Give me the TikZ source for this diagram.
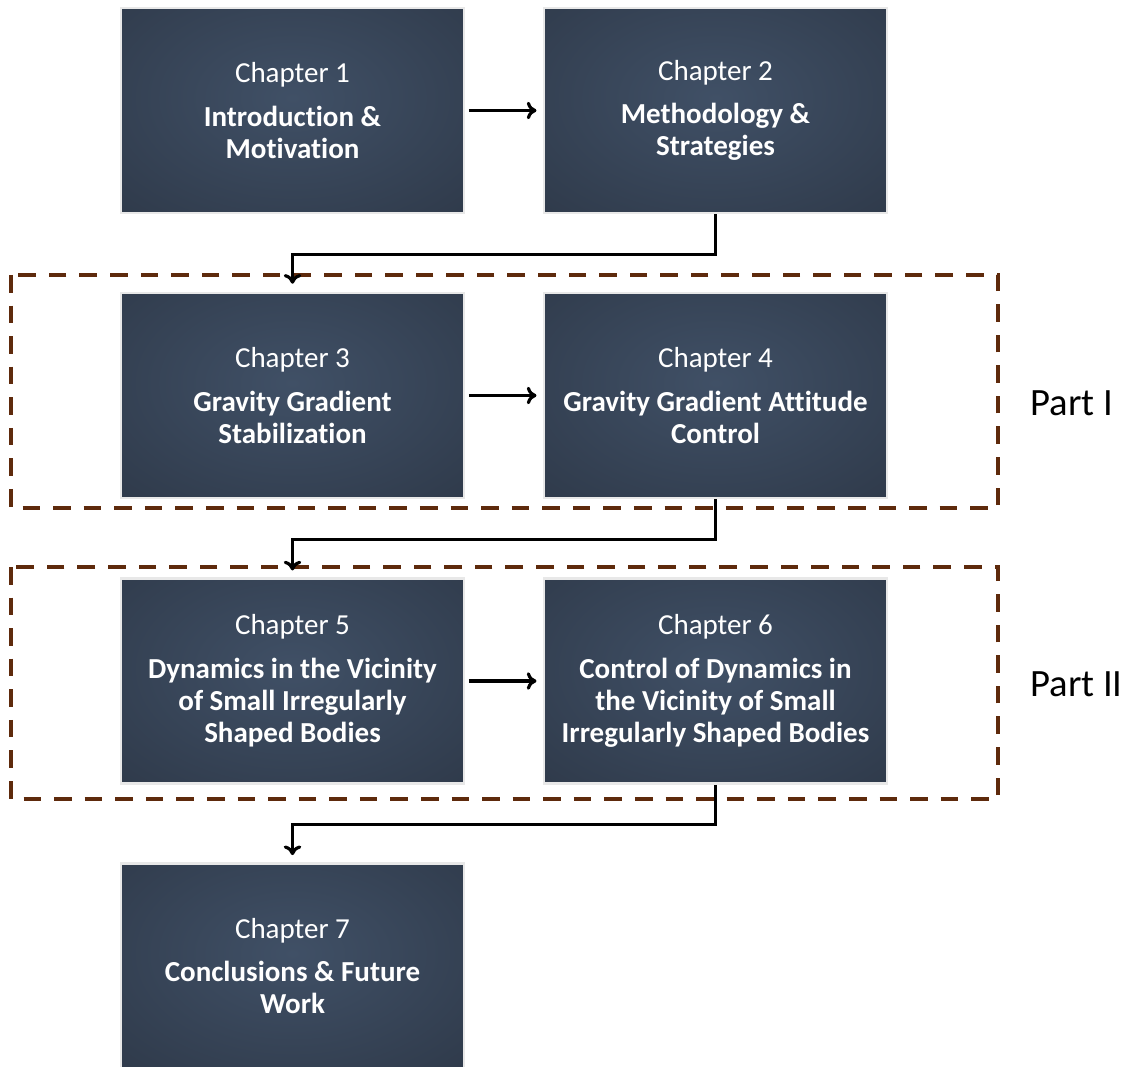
\documentclass[tikz,border=0pt]{standalone}
\usepackage{fontspec}
\setmainfont{Carlito}[Ligatures=NoCommon]
\usetikzlibrary{positioning,arrows.meta}
\definecolor{slatein}{HTML}{405066}
\definecolor{slateout}{HTML}{28313F}
\definecolor{partbrown}{HTML}{5E2A0C}
\tikzset{
  chapbox/.style={rectangle, draw=black!9, line width=1.6pt, fill=slateout,
    path picture={\shade[inner color=slatein, outer color=slateout]
      ([yshift=0.25cm]path picture bounding box.center) ellipse (7.2cm and 4.6cm);},
    minimum width=6.86cm, minimum height=4.1cm, text=white, align=center,
    font=\fontsize{16.5}{18.3}\selectfont},
  flow/.style={-{To[length=5.5pt,width=10pt]}, line width=1.8pt},
  partbox/.style={draw=partbrown, line width=2.1pt, dash pattern=on 10pt off 7.4pt},
  partlabel/.style={anchor=west, inner sep=0pt, font=\fontsize{22}{26}\selectfont}
}

\begin{document}
\begin{tikzpicture}[x=0.02cm, y=-0.02cm]
  %%%%% START %%%%%
  \useasboundingbox (0,0) rectangle (1132,1067);

  % the two parts
  \draw[partbox] (11,275) rectangle (998,508);
  \draw[partbox] (11,567) rectangle (998,799);
  \node[partlabel] (p1) at (1030,403) {Part I};
  \node[partlabel] (p2) at (1030,684) {Part II};

  % chapters
  \node[chapbox] (c1) at (292.5,110.5) {Chapter 1\\[6.5pt]\textbf{Introduction \&}\\\textbf{Motivation}};
  \node[chapbox] (c2) at (715.5,110.5) {Chapter 2\\[6.5pt]\textbf{Methodology \&}\\\textbf{Strategies}};
  \node[chapbox] (c3) at (292.5,395.5) {Chapter 3\\[6.5pt]\textbf{Gravity Gradient}\\\textbf{Stabilization}};
  \node[chapbox] (c4) at (715.5,395.5) {Chapter 4\\[6.5pt]\textbf{Gravity Gradient Attitude}\\\textbf{Control}};
  \node[chapbox] (c5) at (292.5,681) {Chapter 5\\[6.5pt]\textbf{Dynamics in the Vicinity}\\\textbf{of Small Irregularly}\\\textbf{Shaped Bodies}};
  \node[chapbox] (c6) at (715.5,681) {Chapter 6\\[6.5pt]\textbf{Control of Dynamics in}\\\textbf{the Vicinity of Small}\\\textbf{Irregularly Shaped Bodies}};
  \node[chapbox] (c7) at (292.5,966) {Chapter 7\\[6.5pt]\textbf{Conclusions \& Future}\\\textbf{Work}};

  % arrows
  \draw[flow, shorten <=2pt, shorten >=3.5pt] (c1) -- (c2);
  \draw[flow, shorten <=2pt, shorten >=3.5pt] (c3) -- (c4);
  \draw[flow, shorten <=2pt, shorten >=3.5pt] (c5) -- (c6);
  \draw[flow, shorten >=4.5pt] (c2.south) -- ++(0,40) -| (c3.north);
  \draw[flow, shorten >=3.8pt] (c4.south) -- ++(0,40) -| (c5.north);
  \draw[flow, shorten >=4pt] (c6.south) -- ++(0,40) -| (c7.north);
  %%%%% END %%%%%
\end{tikzpicture}
\end{document}
